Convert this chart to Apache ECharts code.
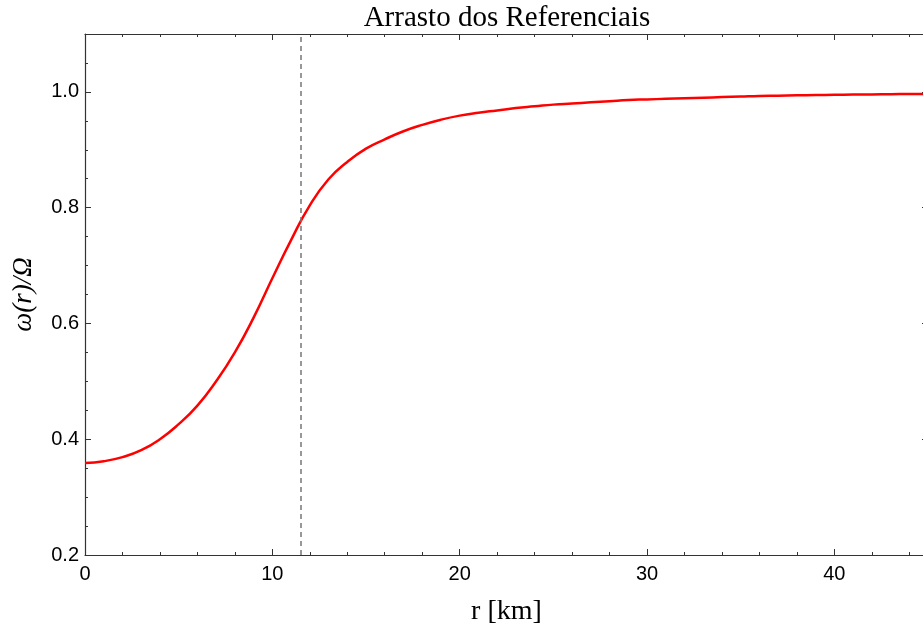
<!DOCTYPE html>
<html>
<head>
<meta charset="utf-8">
<script src="https://cdn.jsdelivr.net/npm/echarts@6/dist/echarts.min.js"></script>
<style>html,body{margin:0;padding:0;background:#fff;}#chart{width:923px;height:630px;}</style>
</head>
<body>
<div id="chart"></div>
<script>
var titleText = 'Arrasto dos Referenciais';
var xAxisName = 'r [km]';
var yAxisName = 'ω(r)/Ω';
var rValues = [0, 1, 2, 3, 4, 5, 6, 7, 8, 9, 10, 11, 12, 13, 14, 15, 16, 17, 18, 19, 20, 21, 22, 23, 24, 25, 26, 27, 28, 29, 30, 31, 32, 33, 34, 35, 36, 37, 38, 39, 40, 41, 42, 43, 44, 45];
var omegaRatio = [0.359, 0.362, 0.369, 0.381, 0.400, 0.426, 0.458, 0.500, 0.550, 0.610, 0.678, 0.744, 0.804, 0.849, 0.879, 0.902, 0.918, 0.932, 0.943, 0.952, 0.959, 0.964, 0.968, 0.972, 0.975, 0.978, 0.980, 0.982, 0.984, 0.986, 0.987, 0.988, 0.989, 0.990, 0.991, 0.992, 0.993, 0.9935, 0.994, 0.9945, 0.995, 0.9953, 0.9956, 0.996, 0.9963, 0.9966];
var markerR = 11.5;
var xRange = [0, 45];
var yRange = [0.2, 1.1];
var xMajor = 10, xMinor = 2;
var yMajor = 0.2, yMinor = 0.05;

var axisColor = '#333';
var sans = 'Liberation Sans';
var serif = 'Liberation Serif';

function isMult(v, step) {
  var k = v / step;
  return Math.abs(k - Math.round(k)) < 1e-6;
}

function xAx(pos, interval, len, labels, line) {
  return {
    type: 'value', position: pos, min: xRange[0], max: xRange[1], interval: interval,
    axisLine: {show: line, onZero: false, lineStyle: {color: axisColor, width: 1.2}},
    axisTick: {show: true, inside: true, length: len, lineStyle: {color: axisColor, width: 1}},
    axisLabel: {show: labels, color: '#000', fontFamily: sans, fontSize: 20, margin: 9,
      formatter: function (v) { return isMult(v, xMajor) ? String(v) : ''; }},
    splitLine: {show: false}
  };
}
function yAx(pos, interval, len, labels, line) {
  return {
    type: 'value', position: pos, min: yRange[0], max: yRange[1], interval: interval,
    axisLine: {show: line, onZero: false, lineStyle: {color: axisColor, width: 1.2}},
    axisTick: {show: true, inside: true, length: len, lineStyle: {color: axisColor, width: 1}},
    axisLabel: {show: labels, color: '#000', fontFamily: sans, fontSize: 20, margin: 6,
      formatter: function (v) { return isMult(v, yMajor) ? v.toFixed(1) : ''; }},
    splitLine: {show: false}
  };
}

var xMain = xAx('bottom', xMajor, 6, true, true);
xMain.name = xAxisName;
xMain.nameLocation = 'middle';
xMain.nameGap = 43;
xMain.nameTextStyle = {fontFamily: serif, fontSize: 28, color: '#000'};

var yMain = yAx('left', yMajor, 6, true, true);
yMain.name = yAxisName;
yMain.nameLocation = 'middle';
yMain.nameGap = 48;
yMain.nameTextStyle = {fontFamily: serif, fontStyle: 'italic', fontSize: 27, color: '#000'};

var data = rValues.map(function (r, i) { return [r, omegaRatio[i]]; });

var chart = echarts.init(document.getElementById('chart'), null, {renderer: 'canvas'});
chart.setOption({
  animation: false,
  backgroundColor: '#fff',
  title: {
    text: titleText, left: 507, top: 4, textAlign: 'center', padding: 0,
    textStyle: {fontFamily: serif, fontSize: 29, fontWeight: 'normal', color: '#000'}
  },
  grid: {left: 85, top: 34, width: 843, height: 521, containLabel: false, outerBoundsMode: 'none'},
  xAxis: [
    xMain,
    xAx('bottom', xMinor, 3, false, false),
    xAx('top', xMajor, 6, false, true),
    xAx('top', xMinor, 3, false, false)
  ],
  yAxis: [
    yMain,
    yAx('left', yMinor, 3, false, false),
    yAx('right', yMajor, 6, false, true),
    yAx('right', yMinor, 3, false, false)
  ],
  series: [{
    type: 'line', xAxisIndex: 0, yAxisIndex: 0,
    data: data, smooth: 0.5, showSymbol: false, symbol: 'none',
    lineStyle: {color: '#ff0000', width: 2.5},
    markLine: {
      silent: true, symbol: 'none', label: {show: false},
      lineStyle: {color: '#777', type: [5, 4], width: 1.5},
      data: [{xAxis: markerR}]
    }
  }]
});
</script>
</body>
</html>
